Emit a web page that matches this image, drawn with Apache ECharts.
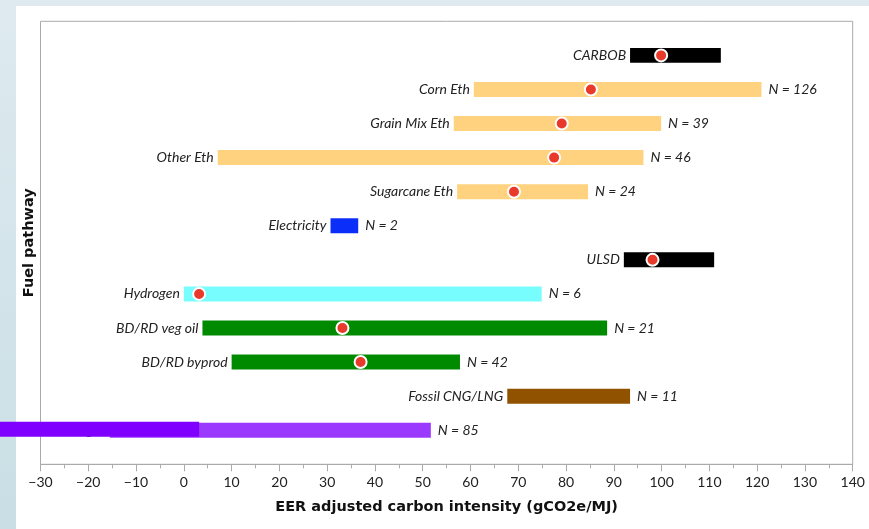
<!DOCTYPE html>
<html>
<head>
<meta charset="utf-8">
<script src="https://cdn.jsdelivr.net/npm/echarts@6/dist/echarts.min.js"></script>
<style>
  html, body { margin: 0; padding: 0; background: #fff; }
  .strip-top { position: absolute; left: 0; top: 0; width: 869px; height: 6px; background: #deeaef; }
  .strip-left { position: absolute; left: 0; top: 0; width: 16px; height: 529px; background: linear-gradient(#deeaef, #c9dfe5); }
  #chart { position: absolute; left: 0; top: 0; width: 869px; height: 529px; }
</style>
</head>
<body>
<div class="strip-top"></div>
<div class="strip-left"></div>
<div id="chart"></div>
<script>
// data (gCO2e/MJ)
const pathways = ['CARBOB', 'Corn Eth', 'Grain Mix Eth', 'Other Eth', 'Sugarcane Eth', 'Electricity',
  'ULSD', 'Hydrogen', 'BD/RD veg oil', 'BD/RD byprod', 'Fossil CNG/LNG', 'Biogas'];
const lows  = [93.4, 60.7, 56.5, 7.1, 57.2, 30.7, 92.1, 0, 3.9, 10, 67.7, -15.5];
const highs = [112.4, 120.9, 99.9, 96.2, 84.6, 36.5, 111, 74.9, 88.6, 57.8, 93.4, 51.7];
const means = [99.9, 85.2, 79.1, 77.5, 69.1, null, 98.1, 3.2, 33.2, 37, null, null];
const counts = [null, 126, 39, 46, 24, 2, null, 6, 21, 42, 11, 85];
const xTicks = { min: -30, max: 140, step: 10 };

// the dark strip laid over the last row's label in the original
const maskRange = [-38.5, 3.2];

const barColors = ['#000000', '#fed27e', '#fed27e', '#fed27e', '#fed27e', '#0b2ff8',
  '#000000', '#78fdfe', '#008a00', '#008a00', '#915200', '#9b39ff'];

const labelFont = 'italic 14px "Gill Sans", Lato, sans-serif';
const nameFont = '"Gill Sans", "DejaVu Sans", sans-serif';

const barData = pathways.map((p, i) => [lows[i], highs[i], i + 1, i]);
const meanData = [];
means.forEach((m, i) => { if (m !== null) meanData.push([m, i + 1]); });

function renderBar(params, api) {
  const idx = api.value(3);
  const p0 = api.coord([api.value(0), api.value(2)]);
  const p1 = api.coord([api.value(1), api.value(2)]);
  const h = api.size([0, 1])[1] * 0.44;
  const children = [
    { type: 'rect', shape: { x: p0[0], y: p0[1] - h / 2, width: p1[0] - p0[0], height: h },
      style: { fill: barColors[idx] } },
    { type: 'text', x: p0[0] - 4, y: p0[1],
      style: { text: pathways[idx], font: labelFont, fill: '#222', align: 'right', verticalAlign: 'middle' } }
  ];
  if (counts[idx] !== null) {
    children.push({ type: 'text', x: p1[0] + 7, y: p0[1],
      style: { text: 'N = ' + counts[idx], font: labelFont, fill: '#222', align: 'left', verticalAlign: 'middle' } });
  }
  return { type: 'group', children: children };
}

function renderMask(params, api) {
  const p0 = api.coord([api.value(0), api.value(2)]);
  const p1 = api.coord([api.value(1), api.value(2)]);
  const h = api.size([0, 1])[1] * 0.44;
  return { type: 'rect', shape: { x: p0[0], y: p0[1] - h / 2 - 1, width: p1[0] - p0[0], height: h },
    style: { fill: '#8000ff' } };
}

const option = {
  animation: false,
  backgroundColor: 'transparent',
  grid: { left: 40.5, right: 16.3, top: 21.3, bottom: 64.7, show: true, borderColor: '#aaa', borderWidth: 1 },
  xAxis: {
    type: 'value', min: xTicks.min, max: xTicks.max, interval: xTicks.step,
    name: 'EER adjusted carbon intensity (gCO2e/MJ)', nameLocation: 'middle', nameGap: 35,
    nameTextStyle: { fontFamily: nameFont, fontWeight: 'bold', fontSize: 14.5, color: '#111' },
    axisLine: { onZero: false, lineStyle: { color: '#aaa' } },
    axisTick: { length: 7, lineStyle: { color: '#aaa' } },
    minorTick: { show: true, splitNumber: 2, length: 4, lineStyle: { color: '#aaa' } },
    axisLabel: { margin: 11, fontFamily: '"Gill Sans", Lato, sans-serif', fontSize: 14, color: '#222',
      formatter: v => (v < 0 ? '\u2212' + Math.abs(v) : String(v)) },
    splitLine: { show: false }
  },
  yAxis: {
    type: 'value', min: 0, max: 13, inverse: true,
    name: 'Fuel pathway', nameLocation: 'middle', nameGap: 4,
    nameTextStyle: { fontFamily: nameFont, fontWeight: 'bold', fontSize: 14.5, color: '#111' },
    axisLine: { show: false }, axisTick: { show: false }, axisLabel: { show: false }, splitLine: { show: false }
  },
  series: [
    { type: 'custom', renderItem: renderBar, encode: { x: [0, 1], y: 2 }, data: barData, clip: false, z: 2 },
    { type: 'scatter', data: meanData, symbolSize: 12, z: 3,
      itemStyle: { color: '#e8392b', opacity: 1, borderColor: '#fff', borderWidth: 2 } },
    { type: 'custom', renderItem: renderMask, encode: { x: [0, 1], y: 2 },
      data: [[maskRange[0], maskRange[1], pathways.length]], clip: false, z: 4 }
  ]
};

const chart = echarts.init(document.getElementById('chart'), null, { renderer: 'canvas' });
chart.setOption(option);
window.onresize = function () { chart.resize(); };
</script>
</body>
</html>
